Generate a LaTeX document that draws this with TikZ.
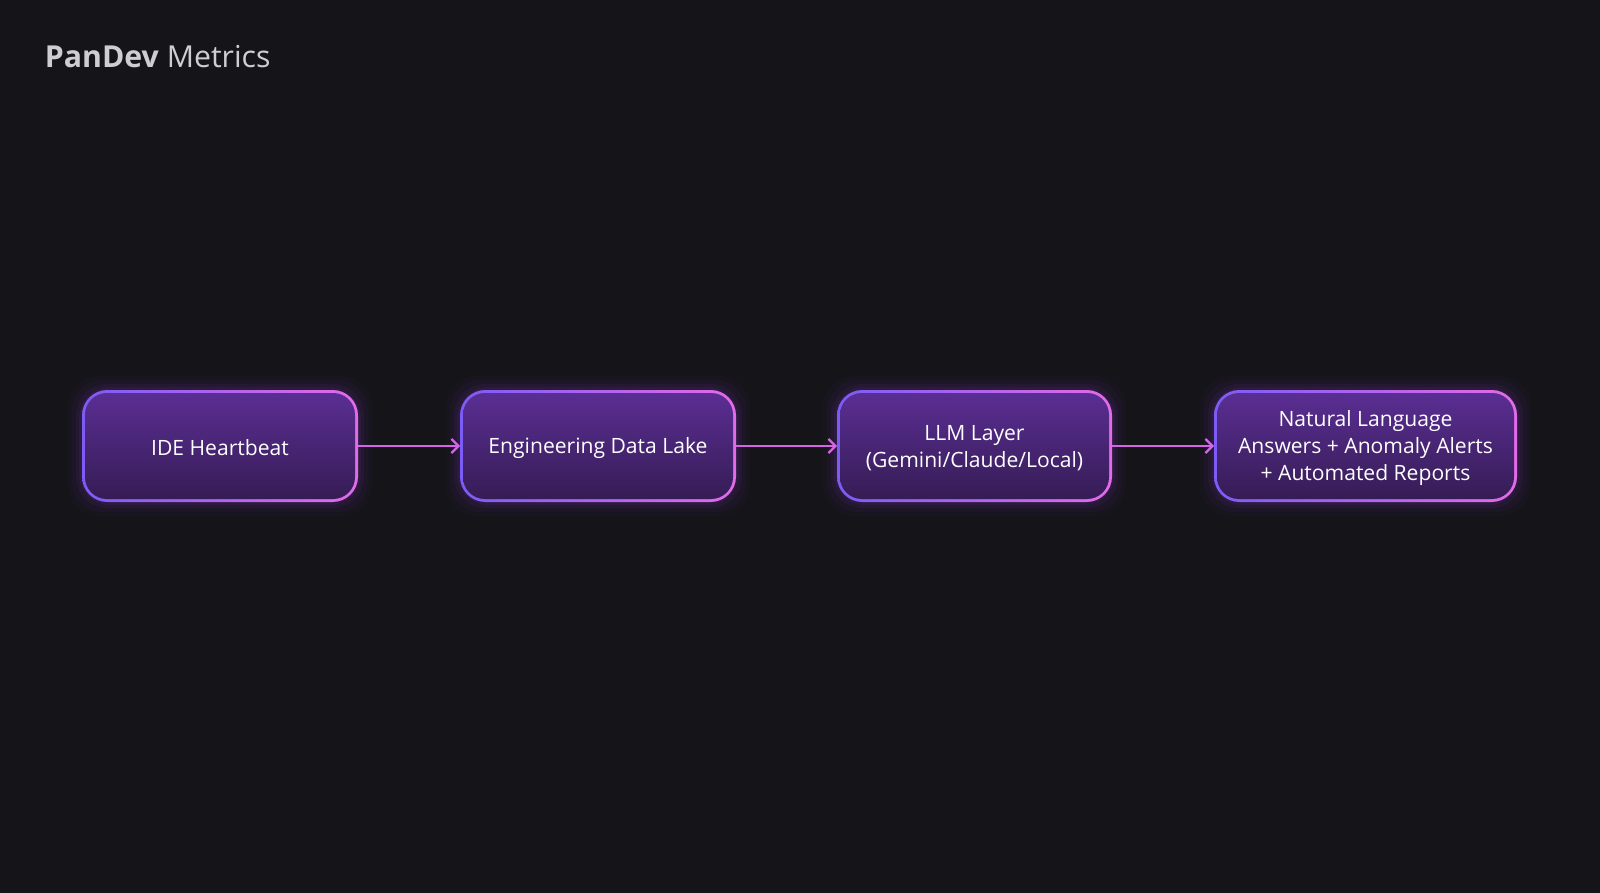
\documentclass[tikz,border=0pt]{standalone}
\usepackage{fontspec}
\setmainfont{Open Sans}
\usetikzlibrary{arrows.meta}
\begin{document}
\begin{tikzpicture}[x=0.025cm,y=-0.025cm,
  lbl/.style={text=white,font=\fontsize{15}{19}\selectfont,align=center},
  arr/.style={draw={rgb,255:red,214;green,100;blue,230},line width=1.6pt,-{Straight Barb[length=5pt,width=10pt]}}]
\definecolor{bg}{HTML}{141419}
\definecolor{bl}{HTML}{7B5CF5}
\definecolor{br}{HTML}{E36BE8}
\definecolor{ft}{HTML}{5A2E93}
\definecolor{fb}{HTML}{361C55}
\definecolor{gl}{HTML}{8A3CC8}
\fill[bg] (0,0) rectangle (1600,893);
\newcommand\pbox[4]{%
  \foreach \g/\o in {14/0.04,10/0.05,6/0.07,3/0.09}{
    \fill[gl,opacity=\o,rounded corners=22] (#2-\g,390-\g) rectangle (#3+\g,502+\g);}
  \shade[left color=bl,right color=br,rounded corners=18] (#2,390) rectangle (#3,502);
  \shade[top color=ft,bottom color=fb,rounded corners=15.5] (#2+3,393) rectangle (#3-3,499);
  \node[lbl] (#1) at ({(#2+#3)/2},448) {#4};
  \coordinate (#1w) at (#2,446);\coordinate (#1e) at (#3,446);
}
\pbox{a}{82}{358}{IDE Heartbeat}
\pbox{b}{460}{736}{Engineering Data Lake}
\pbox{c}{837}{1112}{LLM Layer\\(Gemini/Claude/Local)}
\pbox{d}{1214}{1517}{Natural Language\\Answers + Anomaly Alerts\\+ Automated Reports}
\draw[arr] (ae) -- (bw);
\draw[arr] (be) -- (cw);
\draw[arr] (ce) -- (dw);
\node[anchor=west,font=\fontsize{21.5}{26}\selectfont,text={rgb,255:red,205;green,205;blue,210}] (t) at (40,57) {\textbf{PanDev} Metrics};
\end{tikzpicture}
\end{document}
